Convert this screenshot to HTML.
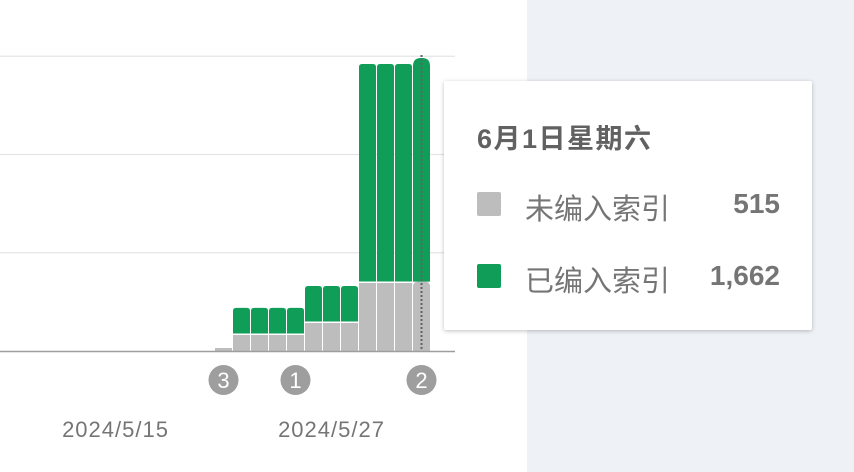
<!DOCTYPE html>
<html><head><meta charset="utf-8"><style>
html,body{margin:0;padding:0;width:854px;height:472px;overflow:hidden;background:#fff;font-family:"Liberation Sans","Noto Sans CJK SC",sans-serif}
</style></head><body>
<svg id="chart" width="854" height="472" xmlns="http://www.w3.org/2000/svg" style="position:absolute;left:0;top:0">
<rect x="527" y="0" width="327" height="472" fill="#eef2f6"/>
<g id="grid"></g>
<g id="bars"></g>
<line x1="0" y1="351.5" x2="455" y2="351.5" stroke="#9e9e9e" stroke-width="1.5"/>
<g id="annots"></g>
<g id="xlabels"></g>
</svg>
<div style="position:absolute;left:444px;top:81px;width:368px;height:249px;background:#fff;box-shadow:0 1px 4px rgba(0,0,0,0.25);border-radius:2px">
 <div style="position:absolute;left:33px;top:36px;font-size:27px;font-weight:bold;color:#616161;letter-spacing:1.5px">6月1日星期六</div>
 <div>
  <div style="position:absolute;left:33px;top:111px;width:24px;height:24px;background:#bdbdbd;border-radius:2px"></div>
  <div style="position:absolute;left:81px;top:105px;font-size:29px;color:#757575">未编入索引</div>
  <div style="position:absolute;right:32px;top:107px;font-size:28px;font-weight:bold;color:#757575">515</div>
 </div>
 <div>
  <div style="position:absolute;left:33px;top:183px;width:24px;height:24px;background:#0f9d58;border-radius:2px"></div>
  <div style="position:absolute;left:81px;top:177px;font-size:29px;color:#757575">已编入索引</div>
  <div style="position:absolute;right:32px;top:179px;font-size:28px;font-weight:bold;color:#757575">1,662</div>
 </div>
</div>
<script>
const categories=["5/21","5/22","5/23","5/24","5/25","5/26","5/27","5/28","5/29","5/30","5/31","6/1"];
const grayVals=[22,119,119,119,119,208,208,208,505,505,505,515];
const greenVals=[0,201,201,201,201,275,275,275,1627,1627,1627,1662];
const gridVals=[730,1460,2190];
const annotLabels=["3","1","2"];
const annotIdx=[0,4,11];
const xTickLabels=["2024/5/15","2024/5/27"];
const xTickPos=[-6,6];
const selectedIdx=11;
const NS="http://www.w3.org/2000/svg";
const base=351,scale=0.1346,x0=215,pitch=18,bw=17;
function y(v){return base-v*scale;}
function x(i){return x0+i*pitch;}
function mk(t,a,p){const e=document.createElementNS(NS,t);for(const k in a)e.setAttribute(k,a[k]);p.appendChild(e);return e;}
function topRounded(x1,y1,w,h,r){r=Math.min(r,h);return `M${x1},${y1+h}V${y1+r}Q${x1},${y1} ${x1+r},${y1}H${x1+w-r}Q${x1+w},${y1} ${x1+w},${y1+r}V${y1+h}Z`;}
const g=document.getElementById('grid');
gridVals.forEach(v=>{const l=mk('line',{x1:0,x2:455,y1:y(v),y2:y(v),stroke:'#e4e4e4','stroke-width':1.2},g);

});
const b=document.getElementById('bars');
grayVals.forEach((gv,i)=>{
 const gr=greenVals[i];const bx=x(i);
 const gy=y(gv);
 const sel=i===selectedIdx;
 const r1=mk('path',{d:(gr===0||sel)?topRounded(bx,gy,bw,base-gy,sel?5:0):`M${bx},${gy}h${bw}V${base}H${bx}Z`,fill:'#bdbdbd'},b);
 
 
 if(gr>0){const ty=y(gv+gr);
  const r2=mk('path',{d:topRounded(bx,ty,bw,gy-ty-(sel?0:1.5),sel?8:3),fill:'#0f9d58'},b);
  
  }
 if(sel){const l=mk('line',{x1:bx+bw/2,x2:bx+bw/2,y1:y(gv+gr)-3,y2:base,stroke:'#5f6368','stroke-width':2,'stroke-dasharray':'2,2'},b);
  
  }
});
const an=document.getElementById('annots');
annotLabels.forEach((t,k)=>{const cx=x(annotIdx[k])+bw/2;
 const grp=mk('g',{},an);
 
 
 mk('circle',{cx:cx,cy:380,r:15,fill:'#9e9e9e'},grp);
 const tx=mk('text',{x:cx,y:388,'text-anchor':'middle','font-size':22,fill:'#fff'},grp);tx.textContent=t;});
const xl=document.getElementById('xlabels');
xTickLabels.forEach((t,k)=>{const tx=mk('text',{x:x(xTickPos[k])+bw/2,y:437,'text-anchor':'middle','font-size':22,'letter-spacing':'1',fill:'#757575'},xl);
 
 
 tx.textContent=t;});
</script>
</body></html>
